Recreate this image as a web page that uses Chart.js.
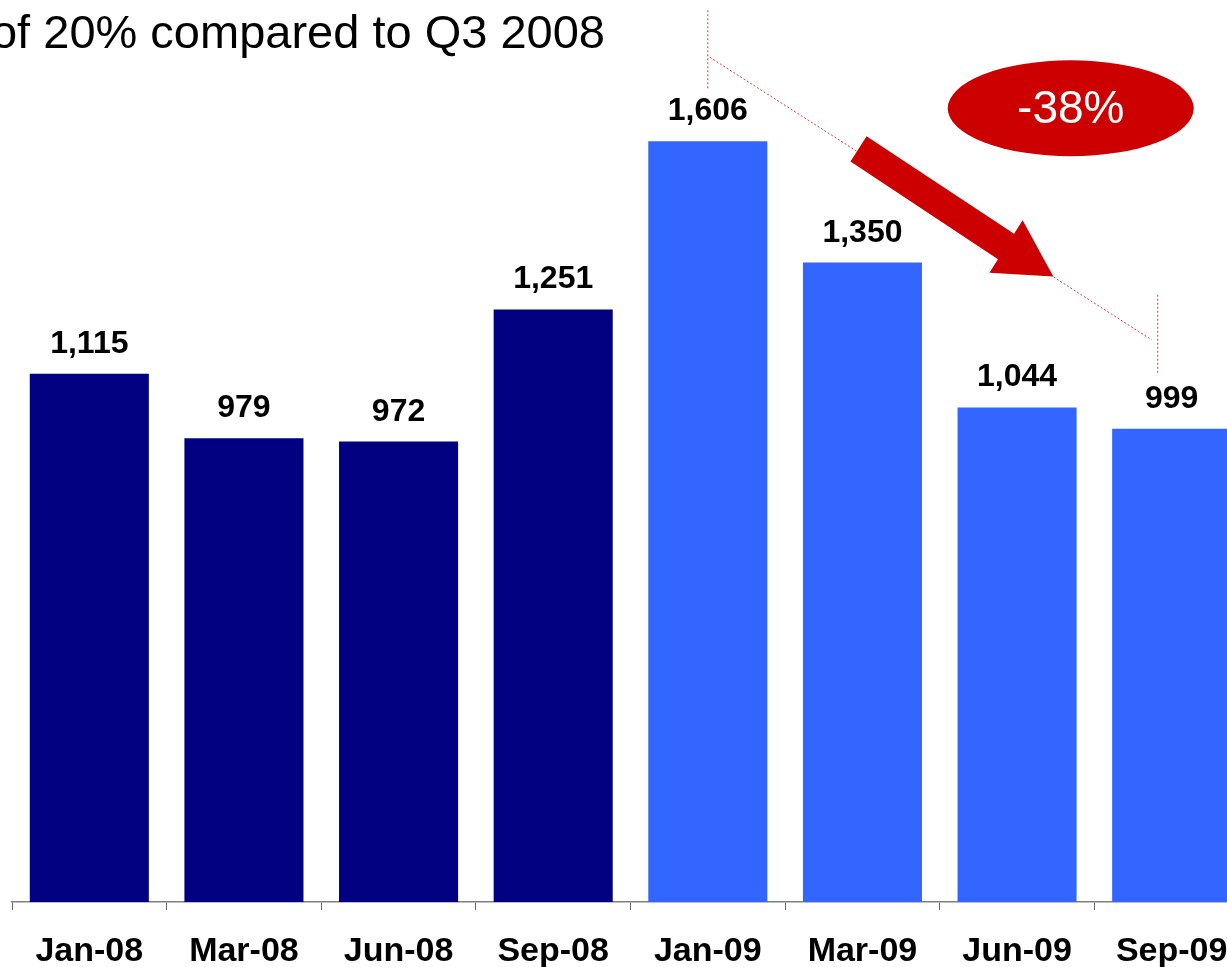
<!DOCTYPE html>
<html>
<head>
<meta charset="utf-8">
<script src="https://cdn.jsdelivr.net/npm/chart.js@4/dist/chart.umd.min.js"></script>
<style>
  html, body { margin: 0; padding: 0; background: #fff; overflow: hidden; }
  #wrap { position: relative; width: 1227px; height: 967px; overflow: hidden; }
  #chart { position: absolute; left: 0; top: 0; }
  #title {
    position: absolute; right: 622px; top: 8px;
    font: 47px "Liberation Sans", Arial, sans-serif; line-height: 47px;
    white-space: nowrap; color: #000;
  }
</style>
</head>
<body>
<div id="wrap">
  <canvas id="chart" width="1260" height="967"></canvas>
  <div id="title">of 20% compared to Q3 2008</div>
</div>
<script>
const months = ['Jan-08', 'Mar-08', 'Jun-08', 'Sep-08', 'Jan-09', 'Mar-09', 'Jun-09', 'Sep-09'];
const values = [1115, 979, 972, 1251, 1606, 1350, 1044, 999];
const barColors = ['#000080', '#000080', '#000080', '#000080', '#3366ff', '#3366ff', '#3366ff', '#3366ff'];
// drop is measured from the peak (Jan-09) to the last quarter (Sep-09)
const peakIndex = 4;
const lastIndex = 7;

const FONT = '"Liberation Sans", Arial, Helvetica, sans-serif';

// numbers above each bar
const valueLabels = {
    id: 'valueLabels',
    afterDatasetsDraw(chart) {
        const ctx = chart.ctx;
        const meta = chart.getDatasetMeta(0);
        ctx.save();
        ctx.font = 'bold 32px ' + FONT;
        ctx.fillStyle = '#000';
        ctx.textAlign = 'center';
        ctx.textBaseline = 'alphabetic';
        meta.data.forEach((bar, i) => {
            ctx.fillText(values[i].toLocaleString('en-US'), bar.x, bar.y - 21);
        });
        ctx.restore();
    }
};

// dotted bracket, red arrow and the percentage bubble
const trendArrow = {
    id: 'trendArrow',
    afterDatasetsDraw(chart) {
        const { ctx, scales: { x, y } } = chart;
        const x1 = x.getPixelForValue(peakIndex);
        const y1 = y.getPixelForValue(values[peakIndex]) - 84;
        const x2 = x.getPixelForValue(lastIndex) - 14;
        const y2 = y.getPixelForValue(values[lastIndex]) - 86;

        ctx.save();
        ctx.strokeStyle = '#e03a3a';
        ctx.lineWidth = 1;
        ctx.setLineDash([2, 2]);
        ctx.beginPath();
        ctx.moveTo(x1, y1 - 47); ctx.lineTo(x1, y1 + 33);
        ctx.moveTo(x1 + 2, y1); ctx.lineTo(x2 - 6, y2 - 3);
        ctx.moveTo(x2, y2 - 48); ctx.lineTo(x2, y2 + 32);
        ctx.stroke();
        ctx.setLineDash([]);

        // arrow along the bracket line
        const dx = x2 - x1, dy = y2 - y1;
        const len = Math.hypot(dx, dy);
        const ux = dx / len, uy = dy / len;
        const nx = -uy, ny = ux;
        const tail = { x: x1 + dx * 0.335, y: y1 + dy * 0.335 - 4 };
        const tip = { x: x1 + dx * 0.768, y: y1 + dy * 0.768 };
        const headLen = 56, shaft = 15, head = 31;
        const bx = tip.x - ux * headLen, by = tip.y - uy * headLen;
        ctx.fillStyle = '#cc0000';
        ctx.beginPath();
        ctx.moveTo(tail.x + nx * shaft, tail.y + ny * shaft);
        ctx.lineTo(bx + nx * shaft, by + ny * shaft);
        ctx.lineTo(bx + nx * head, by + ny * head);
        ctx.lineTo(tip.x, tip.y);
        ctx.lineTo(bx - nx * head, by - ny * head);
        ctx.lineTo(bx - nx * shaft, by - ny * shaft);
        ctx.lineTo(tail.x - nx * shaft, tail.y - ny * shaft);
        ctx.closePath();
        ctx.fill();

        // bubble with the change
        const cx = (x1 + x2) / 2 + 138, cy = y1 + 51;
        ctx.beginPath();
        ctx.ellipse(cx, cy, 123, 48, 0, 0, Math.PI * 2);
        ctx.fill();
        const change = Math.round((values[lastIndex] - values[peakIndex]) / values[peakIndex] * 100);
        ctx.fillStyle = '#fff';
        ctx.font = '46px ' + FONT;
        ctx.textAlign = 'center';
        ctx.textBaseline = 'middle';
        ctx.fillText(change + '%', cx, cy + 2);
        ctx.restore();
    }
};

new Chart(document.getElementById('chart'), {
    type: 'bar',
    data: {
        labels: months,
        datasets: [{
            data: values,
            backgroundColor: barColors,
            categoryPercentage: 1,
            barPercentage: 0.77
        }]
    },
    options: {
        responsive: false,
        animation: false,
        layout: { padding: { left: 12, right: 11, top: 2, bottom: 0 } },
        plugins: {
            legend: { display: false },
            tooltip: { enabled: false }
        },
        scales: {
            x: {
                grid: {
                    display: true,
                    drawOnChartArea: false,
                    drawTicks: true,
                    tickLength: 8,
                    color: '#666666',
                    offset: true
                },
                border: { display: true, color: '#808080', width: 1.5 },
                ticks: {
                    color: '#000',
                    font: { family: FONT, size: 34, weight: 'bold' },
                    padding: 21,
                    maxRotation: 0,
                    autoSkip: false
                },
                afterFit(scale) { scale.height = 65; }
            },
            y: { display: false, min: 0, max: 1900 }
        }
    },
    plugins: [valueLabels, trendArrow]
});
</script>
</body>
</html>
